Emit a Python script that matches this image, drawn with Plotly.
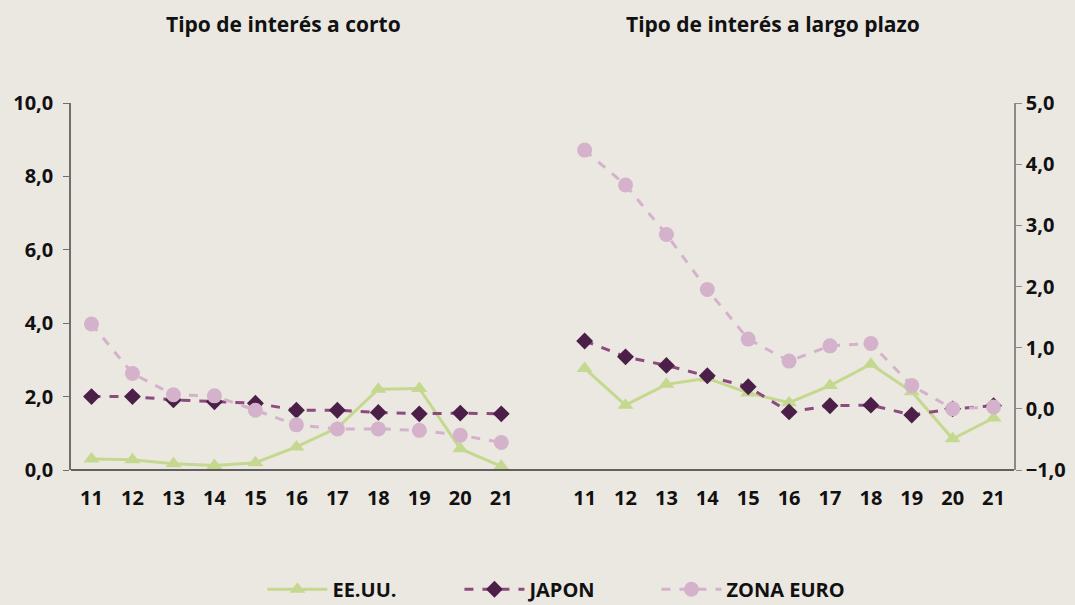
import plotly.graph_objects as go

years = ["11", "12", "13", "14", "15", "16", "17", "18", "19", "20", "21"]

# Tipo de interés a corto (eje izquierdo)
usa_short = [0.30, 0.28, 0.17, 0.12, 0.20, 0.63, 1.15, 2.20, 2.22, 0.58, 0.10]
jpn_short = [2.00, 2.00, 1.91, 1.86, 1.82, 1.63, 1.63, 1.57, 1.53, 1.55, 1.53]
eur_short = [3.98, 2.63, 2.05, 2.02, 1.63, 1.23, 1.12, 1.12, 1.08, 0.95, 0.75]

# Tipo de interés a largo plazo (eje derecho)
usa_long = [0.66, 0.06, 0.40, 0.50, 0.26, 0.10, 0.38, 0.73, 0.28, -0.49, -0.15]
jpn_long = [1.11, 0.85, 0.71, 0.54, 0.36, -0.05, 0.05, 0.06, -0.10, 0.00, 0.05]
eur_long = [4.23, 3.66, 2.85, 1.95, 1.14, 0.78, 1.03, 1.07, 0.38, 0.00, 0.03]

left_ticks = [0, 2, 4, 6, 8, 10]
right_ticks = [-1, 0, 1, 2, 3, 4, 5]

GREEN = "#c5d88f"
MAUVE = "#8d4a7f"
PURPLE = "#4b1f47"
PINK = "#d5b2cb"
BG = "#ebe8e2"
FONT = "Open Sans"

fig = go.Figure()

def add(x, y, name, xa, ya, show):
    if name == "EE.UU.":
        line = dict(color=GREEN, width=3)
        marker = dict(symbol="triangle-up", size=14, color=GREEN)
    elif name == "JAPON":
        line = dict(color=MAUVE, width=3, dash="dash")
        marker = dict(symbol="diamond", size=13, color=PURPLE)
    else:
        line = dict(color=PINK, width=3, dash="dash")
        marker = dict(symbol="circle", size=15, color=PINK)
    fig.add_trace(go.Scatter(x=x, y=y, name=name, mode="lines+markers",
                             line=line, marker=marker, xaxis=xa, yaxis=ya,
                             showlegend=show, legendgroup=name))

add(years, usa_short, "EE.UU.", "x", "y", True)
add(years, jpn_short, "JAPON", "x", "y", True)
add(years, eur_short, "ZONA EURO", "x", "y", True)
add(years, usa_long, "EE.UU.", "x2", "y2", False)
add(years, jpn_long, "JAPON", "x2", "y2", False)
add(years, eur_long, "ZONA EURO", "x2", "y2", False)

tickfont = dict(family=FONT, size=20, color="#111111", weight="bold")

fig.update_layout(
    width=1075, height=605,
    paper_bgcolor=BG, plot_bgcolor=BG,
    separators=",.",
    margin=dict(l=71, r=61, t=103, b=135, autoexpand=False),
    showlegend=True,
    legend=dict(orientation="h", x=0.203, xanchor="left", y=-0.325, yanchor="middle",
                font=dict(family=FONT, size=20, color="#111111", weight="bold"),
                itemwidth=60, entrywidth=122, bgcolor="rgba(0,0,0,0)", tracegroupgap=0),
    xaxis=dict(domain=[0, 0.478], type="category", range=[-0.5, 10.5],
               showgrid=False, showline=False, zeroline=False, ticks="",
               ticklabelstandoff=14, tickfont=tickfont, anchor="y"),
    xaxis2=dict(domain=[0.523, 1], type="category", range=[-0.5, 10.5],
                showgrid=False, showline=False, zeroline=False, ticks="",
                ticklabelstandoff=14, tickfont=tickfont, anchor="y2"),
    yaxis=dict(range=[0, 10], tickvals=left_ticks, tickformat=".1f",
               showgrid=False, zeroline=False, showline=True, linecolor="#6e6e6e",
               linewidth=1.5, ticks="outside", ticklen=6, tickcolor="#6e6e6e",
               ticklabelstandoff=6, tickfont=tickfont, anchor="x", side="left"),
    yaxis2=dict(range=[-1, 5], tickvals=right_ticks, tickformat=".1f",
                showgrid=False, zeroline=False, showline=True, linecolor="#8a8a8a",
                linewidth=1.5, ticks="outside", ticklen=6, tickcolor="#8a8a8a",
                tickfont=tickfont, anchor="x2", side="right"),
    shapes=[dict(type="line", xref="paper", yref="paper", x0=0, x1=1, y0=0, y1=0,
                 line=dict(color="#333333", width=1.5))],
    annotations=[
        dict(text="Tipo de interés a corto", xref="paper", yref="paper",
             x=0.225, y=1.215, xanchor="center", yanchor="middle", showarrow=False,
             font=dict(family=FONT, size=21, color="#111111", weight="bold")),
        dict(text="Tipo de interés a largo plazo", xref="paper", yref="paper",
             x=0.744, y=1.215, xanchor="center", yanchor="middle", showarrow=False,
             font=dict(family=FONT, size=21, color="#111111", weight="bold")),
    ],
)

fig.write_html("out.html", config={"displayModeBar": False},
               post_script="document.body.style.margin='0';")
